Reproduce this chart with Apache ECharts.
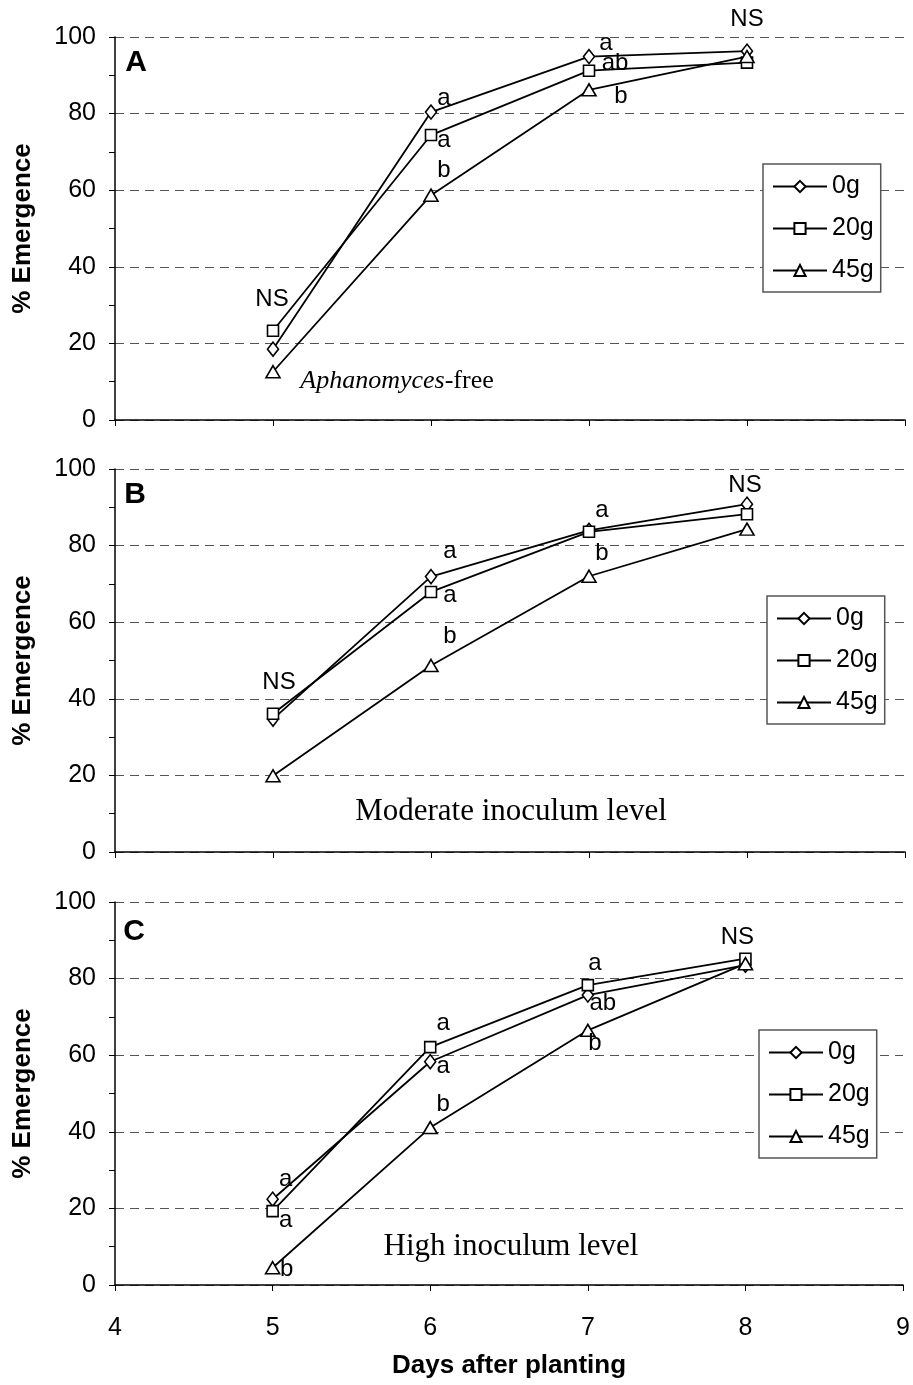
<!DOCTYPE html>
<html>
<head>
<meta charset="utf-8">
<script src="https://cdn.jsdelivr.net/npm/echarts@6/dist/echarts.min.js"></script>
<style>
  html, body { margin: 0; padding: 0; background: #fff; }
  #main { width: 913px; height: 1385px; }
</style>
</head>
<body>
<div id="main"></div>
<script>
// days after planting
const days = [5, 6, 7, 8]
const seriesNames = ['0g', '20g', '45g']
const xTicks = [4, 5, 6, 7, 8, 9]
const yTicks = [0, 20, 40, 60, 80, 100]

// A - Aphanomyces-free
const emergA0 = [18.5, 80.4, 94.9, 96.3]
const emergA20 = [23.3, 74.4, 91.2, 93.3]
const emergA45 = [12.6, 58.7, 86.2, 94.9]
// B - moderate inoculum
const emergB0 = [34.7, 71.9, 84.0, 90.8]
const emergB20 = [36.1, 67.9, 83.6, 88.2]
const emergB45 = [19.9, 48.7, 72.0, 84.3]
// C - high inoculum
const emergC0 = [22.4, 58.3, 75.7, 83.5]
const emergC20 = [19.3, 62.1, 78.3, 85.2]
const emergC45 = [4.5, 41.1, 66.5, 83.9]

// significance letters next to the points
const lettersA0 = ['', 'a', 'a', 'NS']
const lettersA20 = ['NS', 'a', 'ab', '']
const lettersA45 = ['', 'b', 'b', '']
const lettersB0 = ['', 'a', 'a', 'NS']
const lettersB20 = ['NS', 'a', '', '']
const lettersB45 = ['', 'b', 'b', '']
const lettersC0 = ['a', 'a', 'ab', '']
const lettersC20 = ['a', 'a', 'a', 'NS']
const lettersC45 = ['b', 'b', 'b', '']

// label offsets (px) from the point centre
const offsets = {
  A0: [null, [13, -14], [17, -13], [0, -32]],
  A20: [[-1, -31], [13, 5], [26, -7], null],
  A45: [null, [13, -25], [32, 7], null],
  B0: [null, [19, -25], [13, -20], [-2, -19]],
  B20: [[6, -31], [19, 3], null, null],
  B45: [null, [19, -29], [13, -23], null],
  C0: [[13, -20], [13, 5], [15, 8], null],
  C20: [[13, 9], [13, -24], [7, -22], [-8, -21]],
  C45: [[14, 2], [13, -23], [7, 13], null]
}

const FONT = 'Liberation Sans, Arial, sans-serif'
const SERIF = 'Liberation Serif, Times New Roman, serif'
const symbols = {
  '0g': { symbol: 'diamond', size: [11, 14] },
  '20g': { symbol: 'rect', size: [11, 11] },
  '45g': { symbol: 'triangle', size: [14, 12] }
}

const gridTops = [37, 469, 902]
const gridH = 383
const legendPos = [[763, 164], [767, 596], [759, 1030]]

function makeSeries(name, values, letters, offs, idx) {
  return {
    name: name,
    type: 'line',
    xAxisIndex: idx,
    yAxisIndex: idx,
    symbol: symbols[name].symbol,
    symbolSize: symbols[name].size,
    showAllSymbol: true,
    lineStyle: { color: '#000', width: 1.8 },
    itemStyle: { color: '#fff', borderColor: '#000', borderWidth: 1.6 },
    emphasis: { disabled: true },
    animation: false,
    z: 3,
    data: values.map((v, i) => {
      const item = { value: [days[i], v] }
      if (letters[i]) {
        item.label = {
          show: true,
          formatter: letters[i],
          position: 'inside',
          offset: offs[i],
          color: '#000',
          fontFamily: FONT,
          fontSize: 24
        }
      }
      return item
    })
  }
}

const series = [
  makeSeries('0g', emergA0, lettersA0, offsets.A0, 0),
  makeSeries('20g', emergA20, lettersA20, offsets.A20, 0),
  makeSeries('45g', emergA45, lettersA45, offsets.A45, 0),
  makeSeries('0g', emergB0, lettersB0, offsets.B0, 1),
  makeSeries('20g', emergB20, lettersB20, offsets.B20, 1),
  makeSeries('45g', emergB45, lettersB45, offsets.B45, 1),
  makeSeries('0g', emergC0, lettersC0, offsets.C0, 2),
  makeSeries('20g', emergC20, lettersC20, offsets.C20, 2),
  makeSeries('45g', emergC45, lettersC45, offsets.C45, 2)
]

const grid = gridTops.map(t => ({ left: 115, right: 8, top: t, height: gridH }))

const xAxis = gridTops.map((t, i) => ({
  type: 'value',
  gridIndex: i,
  min: xTicks[0],
  max: xTicks[xTicks.length - 1],
  interval: 1,
  name: i === 2 ? 'Days after planting' : '',
  nameLocation: 'middle',
  nameGap: 68,
  nameTextStyle: { color: '#000', fontFamily: FONT, fontSize: 26, fontWeight: 'bold' },
  axisLine: { show: true, onZero: false, lineStyle: { color: '#000', width: 1.5 } },
  axisTick: { show: true, length: 6, lineStyle: { color: '#000', width: 1 } },
  axisLabel: { show: i === 2, margin: 31, color: '#000', fontFamily: FONT, fontSize: 25 },
  splitLine: { show: false }
}))

const yAxis = gridTops.map((t, i) => ({
  type: 'value',
  gridIndex: i,
  min: yTicks[0],
  max: yTicks[yTicks.length - 1],
  interval: 20,
  name: '% Emergence',
  nameLocation: 'middle',
  nameGap: 79,
  nameRotate: 90,
  nameTextStyle: { color: '#000', fontFamily: FONT, fontSize: 26, fontWeight: 'bold' },
  axisLine: { show: true, lineStyle: { color: '#000', width: 1.5 } },
  axisTick: { show: true, length: 6, lineStyle: { color: '#000', width: 1 } },
  minorTick: { show: true, splitNumber: 2, length: 6, lineStyle: { color: '#000', width: 1 } },
  axisLabel: { margin: 19, color: '#000', fontFamily: FONT, fontSize: 25 },
  splitLine: { show: true, lineStyle: { color: '#555', type: [9, 6], width: 1.2 } }
}))

const legend = legendPos.map(p => ({
  data: seriesNames,
  orient: 'vertical',
  left: p[0],
  top: p[1],
  padding: [10, 7, 9, 9],
  itemGap: 17,
  itemWidth: 54,
  itemHeight: 14,
  borderColor: '#555',
  borderWidth: 1.5,
  backgroundColor: '#fff',
  selectedMode: false,
  textStyle: { color: '#000', fontFamily: FONT, fontSize: 25 }
}))

const panelLetter = (txt, x, y) => ({
  type: 'text',
  x: x,
  y: y,
  z: 10,
  style: {
    text: txt,
    fill: '#000',
    font: 'bold 30px ' + FONT,
    align: 'center',
    verticalAlign: 'middle'
  }
})

const subTitle = (txt, x, y, size) => ({
  type: 'text',
  x: x,
  y: y,
  z: 10,
  style: {
    text: txt,
    fill: '#000',
    fontFamily: SERIF,
    fontSize: size,
    align: 'center',
    verticalAlign: 'middle',
    rich: {
      i: { fontFamily: SERIF, fontSize: size, fontStyle: 'italic', fill: '#000' },
      n: { fontFamily: SERIF, fontSize: size, fill: '#000' }
    }
  }
})

const chart = echarts.init(document.getElementById('main'), null, { renderer: 'canvas' })
chart.setOption({
  backgroundColor: '#fff',
  animation: false,
  grid: grid,
  xAxis: xAxis,
  yAxis: yAxis,
  legend: legend,
  series: series,
  graphic: [
    panelLetter('A', 136, 63),
    panelLetter('B', 135, 495),
    panelLetter('C', 134, 932),
    subTitle('{i|Aphanomyces}{n|-free}', 397, 381, 26),
    subTitle('{n|Moderate inoculum level}', 511, 812, 31),
    subTitle('{n|High inoculum level}', 511, 1247, 31)
  ]
})
</script>
</body>
</html>
